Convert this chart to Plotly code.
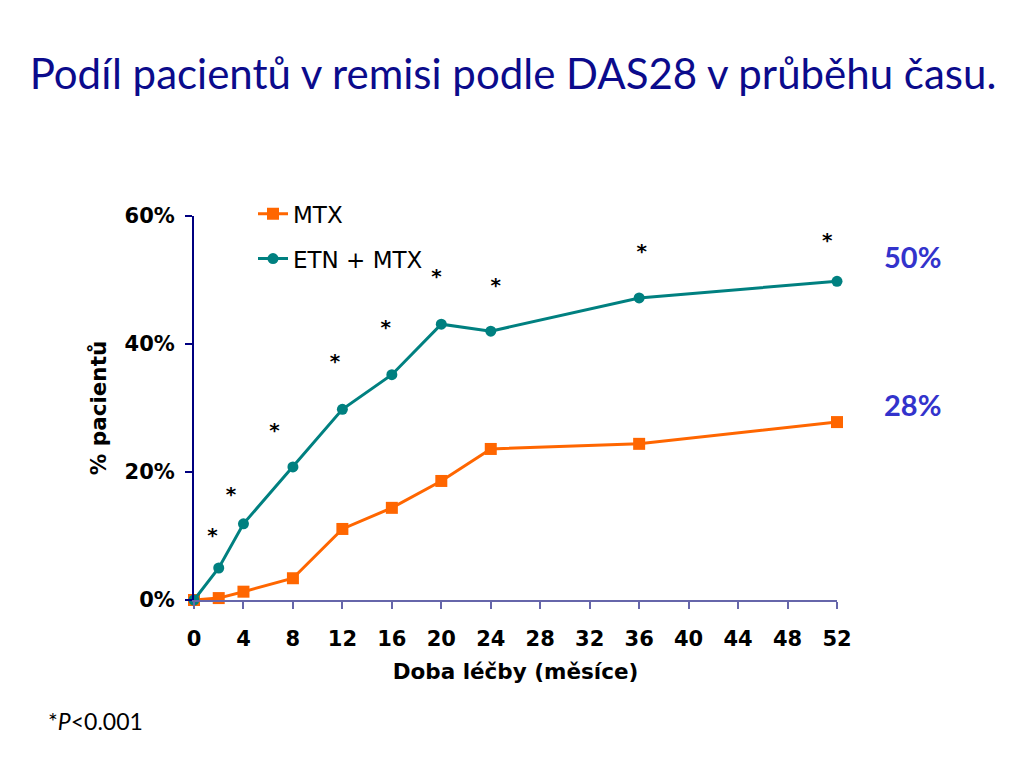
import plotly.graph_objects as go

# months of treatment and share of patients in remission (%)
months = [0, 2, 4, 8, 12, 16, 20, 24, 36, 52]
mtx = [0, 0.3, 1.3, 3.4, 11.1, 14.4, 18.6, 23.6, 24.4, 27.8]
etn_mtx = [0, 5.0, 11.9, 20.8, 29.8, 35.2, 43.1, 42.0, 47.2, 49.8]

# positions of the significance stars
star_x = [1.5, 3.0, 6.5, 11.4, 15.5, 19.6, 24.4, 36.2, 51.2]
star_y = [9.8, 16.3, 26.2, 37.0, 42.3, 50.3, 48.9, 54.2, 55.9]

end_labels = ["50%", "28%"]
end_label_y = [53.6, 30.5]

x_ticks = list(range(0, 53, 4))
y_ticks = [0, 20, 40, 60]
y_tick_text = ["0%", "20%", "40%", "60%"]

tick_font = dict(family="DejaVu Sans", size=21, color="black", weight="bold")

# plot area in page pixels (page is drawn with a small offset)
left, right, top, bottom = 186, 829, 208, 592

fig = go.Figure()

fig.add_trace(go.Scatter(
    x=months, y=mtx, name="MTX", mode="lines+markers",
    line=dict(color="#ff6600", width=3),
    marker=dict(symbol="square", size=12, color="#ff6600"),
    legendgroup="a", cliponaxis=False,
))

fig.add_trace(go.Scatter(
    x=months, y=etn_mtx, name="ETN + MTX", mode="lines+markers",
    line=dict(color="#008080", width=3),
    marker=dict(symbol="circle", size=11, color="#008080"),
    legendgroup="b", cliponaxis=False,
))

# stars marking P<0.001
fig.add_trace(go.Scatter(
    x=star_x, y=star_y, mode="text", text=["*"] * len(star_x),
    textfont=dict(family="DejaVu Sans", size=20, color="black", weight="bold"),
    showlegend=False, cliponaxis=False,
))

for lab, yv in zip(end_labels, end_label_y):
    fig.add_annotation(
        x=1.117, y=yv / 60, xref="paper", yref="paper", text=lab, showarrow=False,
        xanchor="center", yanchor="middle",
        font=dict(family="Lato", size=29, color="#3333cc", weight="bold"),
    )

fig.add_annotation(
    x=(38 - 186) / 643, y=(592 - 713) / 384, xref="paper", yref="paper",
    text="*<i>P</i>&lt;0.001",
    showarrow=False, xanchor="left", yanchor="middle",
    font=dict(family="Lato", size=23, color="black"),
)

fig.update_layout(
    width=1024, height=768,
    margin=dict(l=left, r=1024 - right, t=top, b=768 - bottom),
    paper_bgcolor="white", plot_bgcolor="white",
    title=dict(
        text="Podíl pacientů v remisi podle DAS28 v průběhu času.",
        x=505 / 1024, xanchor="center", y=1 - 66 / 768, yanchor="middle",
        font=dict(family="Lato", size=42, color="#0b0b8c"),
    ),
    showlegend=True,
    legend=dict(
        x=(245 - 186) / 643, y=1.062, xanchor="left", yanchor="top",
        font=dict(family="DejaVu Sans", size=23, color="black"),
        bgcolor="rgba(0,0,0,0)", traceorder="grouped", tracegroupgap=12,
    ),
)

fig.update_xaxes(
    range=[0, 52], tickvals=x_ticks, showgrid=False, zeroline=False,
    showline=True, linecolor="#6666aa", linewidth=2,
    ticks="outside", ticklen=7, tickcolor="#6666aa", tickwidth=1.5,
    tickfont=tick_font, ticklabelstandoff=12,
    title=dict(text="Doba léčby (měsíce)", standoff=14,
               font=dict(family="DejaVu Sans", size=21.5, color="black", weight="bold")),
)

fig.update_yaxes(
    range=[0, 60], tickvals=y_ticks, ticktext=y_tick_text, showgrid=False, zeroline=False,
    showline=True, linecolor="#000080", linewidth=2,
    ticks="outside", ticklen=7, tickcolor="#000080", tickwidth=1.5,
    tickfont=tick_font, ticklabelstandoff=6,
    title=dict(text="% pacientů", standoff=12,
               font=dict(family="DejaVu Sans", size=21.5, color="black", weight="bold")),
)

fig.write_html("out.html")
